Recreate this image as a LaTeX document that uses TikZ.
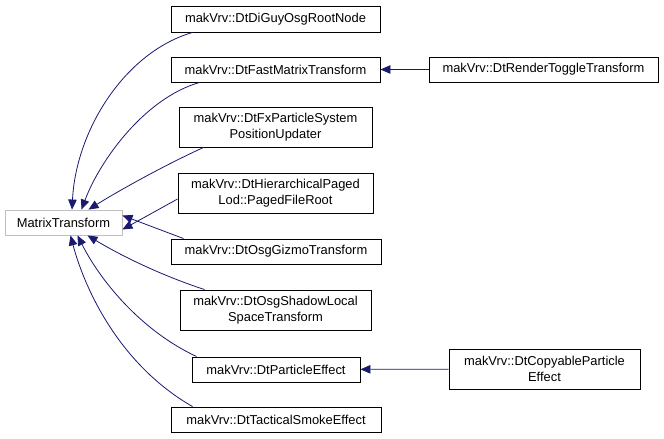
\documentclass[tikz,border=0pt]{standalone}
\usepackage{fontspec}
\setmainfont{Liberation Sans}
\usetikzlibrary{arrows.meta}
\definecolor{edgeblue}{HTML}{191970}
\definecolor{basegrey}{HTML}{BFBFBF}
\tikzset{
  cls/.style={draw=black,fill=white,line width=0.9pt,align=center,inner sep=0pt,
    font=\fontsize{12.9}{16}\selectfont},
  basecls/.style={cls,draw=basegrey},
  inherit/.style={draw=edgeblue,line width=0.8pt,-{Triangle[length=10pt,width=8.5pt]}}
}
\begin{document}
\begin{tikzpicture}[x=1pt,y=-1pt]
  \useasboundingbox (0,0) rectangle (664,439);
  % classes
  \node[basecls,minimum width=117pt,minimum height=25pt] (base) at (63.5,222.5) {MatrixTransform};
  \node[cls,minimum width=209pt,minimum height=26pt] (diguy) at (275.5,19) {makVrv::DtDiGuyOsgRootNode};
  \node[cls,minimum width=209pt,minimum height=25pt] (fast) at (275.5,69.5) {makVrv::DtFastMatrixTransform};
  \node[cls,minimum width=193pt,minimum height=40pt] (fx) at (275.5,127) {makVrv::DtFxParticleSystem\\PositionUpdater};
  \node[cls,minimum width=195pt,minimum height=40pt] (hier) at (275.5,193) {makVrv::DtHierarchicalPaged\\Lod::PagedFileRoot};
  \node[cls,minimum width=210pt,minimum height=25pt] (gizmo) at (276,251.5) {makVrv::DtOsgGizmoTransform};
  \node[cls,minimum width=191pt,minimum height=40pt] (shadow) at (275.5,310) {makVrv::DtOsgShadowLocal\\SpaceTransform};
  \node[cls,minimum width=168pt,minimum height=25pt] (particle) at (276,369.5) {makVrv::DtParticleEffect};
  \node[cls,minimum width=210pt,minimum height=25pt] (smoke) at (276,419.5) {makVrv::DtTacticalSmokeEffect};
  \node[cls,minimum width=229pt,minimum height=25pt] (toggle) at (543.5,69.5) {makVrv::DtRenderToggleTransform};
  \node[cls,minimum width=191pt,minimum height=40pt] (copy) at (544.5,369) {makVrv::DtCopyableParticle\\Effect};
  % inheritance
  \draw[inherit] ([xshift=22pt]diguy.south west) .. controls (125,52) and (76,130) .. ([xshift=8.5pt]base.north);
  \draw[inherit] ([xshift=29pt]fast.south west) .. controls (145,98) and (100,160) .. ([xshift=18pt]base.north);
  \draw[inherit] ([xshift=25pt]fx.south west) .. controls (165,165) and (120,190) .. ([xshift=25pt]base.north);
  \draw[inherit] ([yshift=-6pt]hier.west) -- ([yshift=-7pt]base.east);
  \draw[inherit] ([xshift=13pt]gizmo.north west) -- ([yshift=7pt]base.east);
  \draw[inherit] ([xshift=25pt]shadow.north west) .. controls (160,275) and (120,255) .. ([xshift=24pt]base.south);
  \draw[inherit] ([xshift=5pt]particle.north west) .. controls (140,330) and (100,280) .. ([xshift=14pt]base.south);
  \draw[inherit] ([xshift=22pt]smoke.north west) .. controls (120,365) and (85,290) .. ([xshift=7pt]base.south);
  \draw[inherit] (toggle) -- (fast);
  \draw[inherit] (copy) -- (particle);
\end{tikzpicture}
\end{document}
